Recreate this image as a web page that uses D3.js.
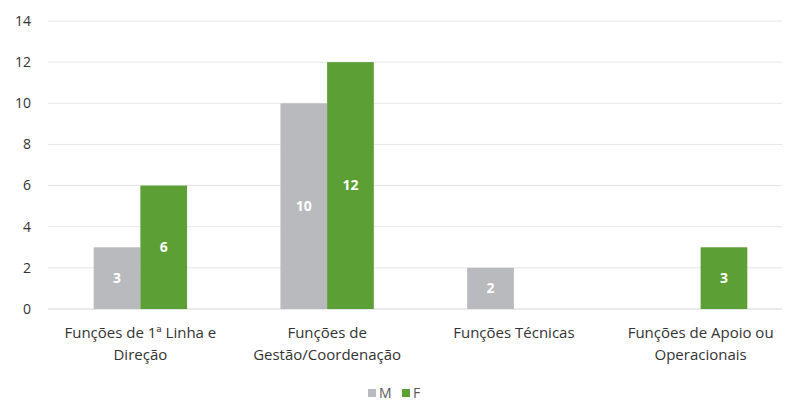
<!DOCTYPE html>
<html>
<head>
<meta charset="utf-8">
<script src="https://cdn.jsdelivr.net/npm/d3@7"></script>
<style>
  body { margin: 0; background: #fff; }
  svg { display: block; font-family: "Open Sans", sans-serif; }
</style>
</head>
<body>
<svg id="chart" width="786" height="409"></svg>
<script>
// chart data
const categories = [
    ["Funções de 1ª Linha e", "Direção"],
    ["Funções de", "Gestão/Coordenação"],
    ["Funções Técnicas"],
    ["Funções de Apoio ou", "Operacionais"]
];
const seriesNames = ["M", "F"];
const valuesM = [3, 10, 2, 0];
const valuesF = [6, 12, 0, 3];
const yTicks = [0, 2, 4, 6, 8, 10, 12, 14];

const colors = { M: "#b9babe", F: "#5c9f34" };

const svg = d3.select("#chart");

// positions
const x0 = d3.scaleBand()
    .domain(d3.range(categories.length))
    .range([47, 794])
    .paddingInner(0.5)
    .paddingOuter(0.25);

const x1 = d3.scaleBand()
    .domain(seriesNames)
    .range([0, x0.bandwidth()]);

const y = d3.scaleLinear()
    .domain([0, 14])
    .range([309, 21]);

// gridlines
svg.append("g")
    .selectAll("line")
    .data(yTicks)
    .join("line")
    .attr("x1", 48)
    .attr("x2", 782)
    .attr("y1", d => y(d))
    .attr("y2", d => y(d))
    .attr("stroke", d => d === 0 ? "#d4d4d4" : "#e6e6e6")
    .attr("stroke-width", 1);

// y tick labels
svg.append("g")
    .selectAll("text")
    .data(yTicks)
    .join("text")
    .attr("x", 31)
    .attr("y", d => y(d))
    .attr("dy", "0.35em")
    .attr("text-anchor", "end")
    .attr("fill", "#333")
    .style("font-size", "14px")
    .text(d => d);

// bars
const rows = categories.map((c, i) => ({ i, M: valuesM[i], F: valuesF[i] }));

const groups = svg.append("g")
    .selectAll("g")
    .data(rows)
    .join("g")
    .attr("transform", d => `translate(${x0(d.i)},0)`);

const cells = groups.selectAll("g")
    .data(d => seriesNames.map(k => ({ key: k, value: d[k] })).filter(d => d.value > 0))
    .join("g");

cells.append("rect")
    .attr("x", d => x1(d.key))
    .attr("width", x1.bandwidth())
    .attr("y", d => y(d.value))
    .attr("height", d => y(0) - y(d.value))
    .attr("fill", d => colors[d.key]);

cells.append("text")
    .attr("x", d => x1(d.key) + x1.bandwidth() / 2)
    .attr("y", d => (y(d.value) + y(0)) / 2)
    .attr("dy", "0.35em")
    .attr("text-anchor", "middle")
    .attr("fill", "#fff")
    .style("font-size", "14px")
    .style("font-weight", "bold")
    .text(d => d.value);

// category labels
svg.append("g")
    .selectAll("text")
    .data(categories)
    .join("text")
    .attr("x", (d, i) => x0(i) + x0.bandwidth() / 2)
    .attr("y", 338)
    .attr("text-anchor", "middle")
    .attr("fill", "#333")
    .style("font-size", "15px")
    .selectAll("tspan")
    .data(d => d)
    .join("tspan")
    .attr("x", function() { return d3.select(this.parentNode).attr("x"); })
    .attr("dy", (d, i) => i === 0 ? 0 : 22)
    .text(d => d);

// legend
const legend = svg.append("g")
    .attr("transform", "translate(368,393)");

const legendItems = legend.selectAll("g")
    .data(seriesNames)
    .join("g")
    .attr("transform", (d, i) => `translate(${i * 34},0)`);

legendItems.append("rect")
    .attr("x", 0)
    .attr("y", -4)
    .attr("width", 8)
    .attr("height", 8)
    .attr("fill", d => colors[d]);

legendItems.append("text")
    .attr("x", 11)
    .attr("dy", "0.35em")
    .attr("fill", "#595959")
    .style("font-size", "14px")
    .text(d => d);
</script>
</body>
</html>
